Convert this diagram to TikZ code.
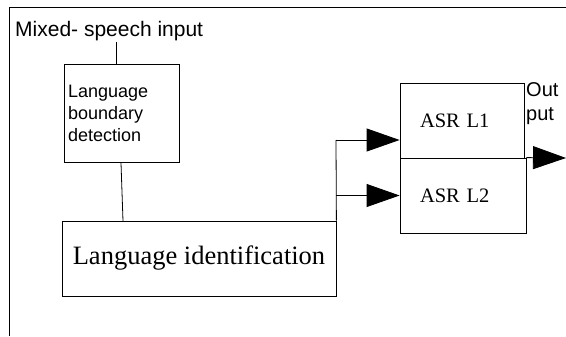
\documentclass[tikz,border=0pt]{standalone}
\usepackage{fontspec}
\setmainfont{Liberation Serif}
\setsansfont{Liberation Sans}
\usepackage{tikz}
\usetikzlibrary{arrows.meta}

\tikzset{
  block/.style={draw, line width=0.8pt, inner sep=0pt, minimum height=75pt},
  bigtip/.style={line width=0.8pt, -{Triangle[length=33pt,width=23pt]}},
  link/.style={line width=0.8pt}
}

\begin{document}
\begin{tikzpicture}[x=1pt,y=-1pt]
    \useasboundingbox (0,0) rectangle (566,337);
    \draw[link] (9,336) -- (9,7.5) -- (566,7.5);

    \node[anchor=west, inner sep=0pt, font=\sffamily\fontsize{21}{23}\selectfont] (input) at (15,31) {Mixed- speech input};
    \node[block, minimum width=115pt, minimum height=98pt, text width=107pt, align=left,
          font=\sffamily\fontsize{18}{22}\selectfont] (lbd) at (121.5,113.5) {Language\\boundary\\detection};
    \node[block, minimum width=274pt, font=\fontsize{26.5}{28}\selectfont] (li) at (199,258.5) {Language identification};
    \node[block, minimum width=124pt, text width=112pt, align=left, font=\fontsize{20.5}{22}\selectfont] (asr1) at (462,120.5) {\hspace{14pt}ASR L1};
    \node[block, minimum width=126pt, text width=114pt, align=left, font=\fontsize{20.5}{22}\selectfont] (asr2) at (463,195.5) {\hspace{14pt}ASR L2};
    \node[anchor=west, inner sep=0pt, align=left, font=\sffamily\fontsize{20}{24}\selectfont] (outtext) at (526,104) {Out\\put};

    \coordinate (fork) at (336,140);
    \coordinate (out) at (566,158);

    \draw[link] (116,42) -- (116,64);
    \draw[link] (lbd.south -| 121,0) -- (123,221);
    \draw[link] (li.north east) -- (fork);
    \draw[bigtip] (fork) -- (fork -| asr1.west);
    \draw[bigtip] (li.north east |- asr2) -- (asr2.west);
    \draw[bigtip] (asr2.north east) -- (out);
\end{tikzpicture}
\end{document}
